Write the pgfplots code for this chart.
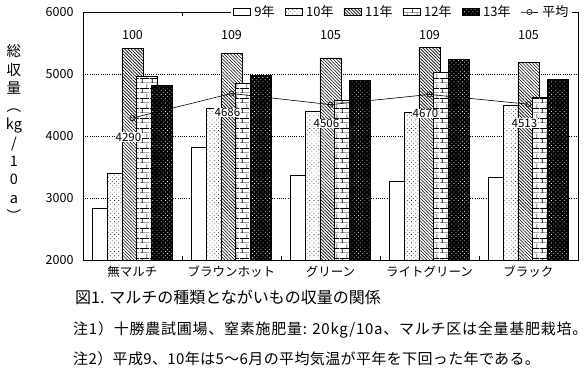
\documentclass[border=0pt]{standalone}
\usepackage{fontspec}
\setmainfont{Noto Sans CJK JP}
\newfontfamily\notefont[LetterSpace=5]{Noto Sans CJK JP}
\newfontfamily\notefontb[LetterSpace=2.5]{Noto Sans CJK JP}
\usepackage{pgfplots}
\pgfplotsset{compat=1.18}
\usetikzlibrary{patterns,patterns.meta}

\pgfdeclarepatternformonly{smallbricks}{\pgfpointorigin}{\pgfpoint{10pt}{10pt}}{\pgfpoint{10pt}{10pt}}{%
  \pgfsetlinewidth{0.7pt}%
  \pgfpathmoveto{\pgfpoint{0pt}{0pt}}\pgfpathlineto{\pgfpoint{10pt}{0pt}}%
  \pgfpathmoveto{\pgfpoint{0pt}{5pt}}\pgfpathlineto{\pgfpoint{10pt}{5pt}}%
  \pgfpathmoveto{\pgfpoint{2.5pt}{0pt}}\pgfpathlineto{\pgfpoint{2.5pt}{5pt}}%
  \pgfpathmoveto{\pgfpoint{7.5pt}{5pt}}\pgfpathlineto{\pgfpoint{7.5pt}{10pt}}%
  \pgfusepath{stroke}}

\pgfplotsset{
  mybar/.style={ybar, bar width=21pt, bar shift=#1, draw=black, line width=0.6pt,
    legend image code/.code={\path[draw=black, line width=0.6pt, ##1] (0pt,-3.5pt) rectangle (17pt,3.5pt);}},
}

\begin{document}
\begin{tikzpicture}
\useasboundingbox (0pt,0pt) rectangle (587pt,383pt);
\begin{axis}[
  at={(83pt,123pt)}, anchor=south west,
  scale only axis, width=495pt, height=248pt,
  xmin=-0.5, xmax=4.5, ymin=2000, ymax=6000,
  xtick={0,1,2,3,4},
  xticklabels={無マルチ,ブラウンホット,グリーン,ライトグリーン,ブラック},
  minor xtick={0.5,1.5,2.5,3.5},
  major tick length=0pt, minor tick length=4pt, tick align=inside,
  minor tick style={black, line width=0.6pt},
  ytick={2000,3000,4000,5000,6000},
  ymajorgrids, major grid style={black, line width=0.6pt, dash pattern=on 1pt off 1.2pt},
  axis line style={line width=0.8pt},
  tick label style={font=\fontsize{12.5pt}{14pt}\selectfont},
  xticklabel style={yshift=-2pt},
  yticklabel style={/pgf/number format/assume math mode=true, /pgf/number format/1000 sep={}, xshift=-6pt},
  legend style={at={(1,1)}, anchor=east, xshift=-6pt, draw=none, fill=white,
    font=\fontsize{13pt}{15pt}\selectfont, inner sep=1.5pt,
    /tikz/every even column/.append style={column sep=8pt},
    /tikz/every odd column/.append style={column sep=2pt}},
  legend columns=6, legend cell align=left,
]
\addplot[mybar=-29.6pt, fill=white] coordinates {(0,2840) (1,3820) (2,3370) (3,3270) (4,3330)};
\addlegendentry{9年}
\addplot[mybar=-14.8pt, fill=white, postaction={pattern={Dots[distance=3pt, angle=45, radius=0.45pt]}, pattern color=black}] coordinates {(0,3400) (1,4450) (2,4400) (3,4380) (4,4500)};
\addlegendentry{10年}
\addplot[mybar=0pt, fill=white, postaction={pattern={Lines[angle=-45, distance=2.3pt, line width=0.6pt]}, pattern color=black}] coordinates {(0,5410) (1,5330) (2,5260) (3,5430) (4,5190)};
\addlegendentry{11年}
\addplot[mybar=14.8pt, fill=white, postaction={pattern=smallbricks, pattern color=black}] coordinates {(0,4960) (1,4850) (2,4580) (3,5020) (4,4620)};
\addlegendentry{12年}
\addplot[mybar=29.6pt, fill=black, postaction={pattern={Dots[distance=3pt, angle=45, radius=0.5pt]}, pattern color=white}] coordinates {(0,4820) (1,4980) (2,4900) (3,5240) (4,4910)};
\addlegendentry{13年}
\addplot[black, line width=0.6pt, mark=o, mark size=2.6pt, mark options={fill=white, solid},
  nodes near coords, point meta=explicit symbolic,
  every node near coord/.append style={anchor=center, xshift=-4pt, yshift=-19pt, fill=white, inner sep=0.6pt, text=black, font=\fontsize{11.5pt}{13pt}\selectfont}]
  coordinates {(0,4290)[4290] (1,4686)[4686] (2,4506)[4506] (3,4670)[4670] (4,4513)[4513]};
\addlegendentry{平均}
\addplot[draw=none, mark=none, forget plot, nodes near coords, point meta=explicit symbolic,
  every node near coord/.append style={anchor=center, font=\fontsize{12.5pt}{14pt}\selectfont}]
  coordinates {(0,5623)[100] (1,5623)[109] (2,5623)[105] (3,5623)[109] (4,5623)[105]};
\end{axis}
\node[align=center, font=\fontsize{14.5pt}{18.3pt}\selectfont, inner sep=0pt] at (14pt,250pt) {総\\収\\量\\︵\\kg\\/\\1\\0\\a\\︶};
\node[anchor=west, inner sep=0pt, font=\fontsize{16pt}{18pt}\selectfont] at (75pt,86pt) {図1. マルチの種類とながいもの収量の関係};
\node[anchor=west, inner sep=0pt, font=\notefont\fontsize{15pt}{17pt}\selectfont] at (73pt,53pt) {注1）十勝農試圃場、窒素施肥量: 20kg/10a、マルチ区は全量基肥栽培。};
\node[anchor=west, inner sep=0pt, font=\notefontb\fontsize{15pt}{17pt}\selectfont] at (73pt,24pt) {注2）平成9、10年は5～6月の平均気温が平年を下回った年である。};
\end{tikzpicture}
\end{document}
